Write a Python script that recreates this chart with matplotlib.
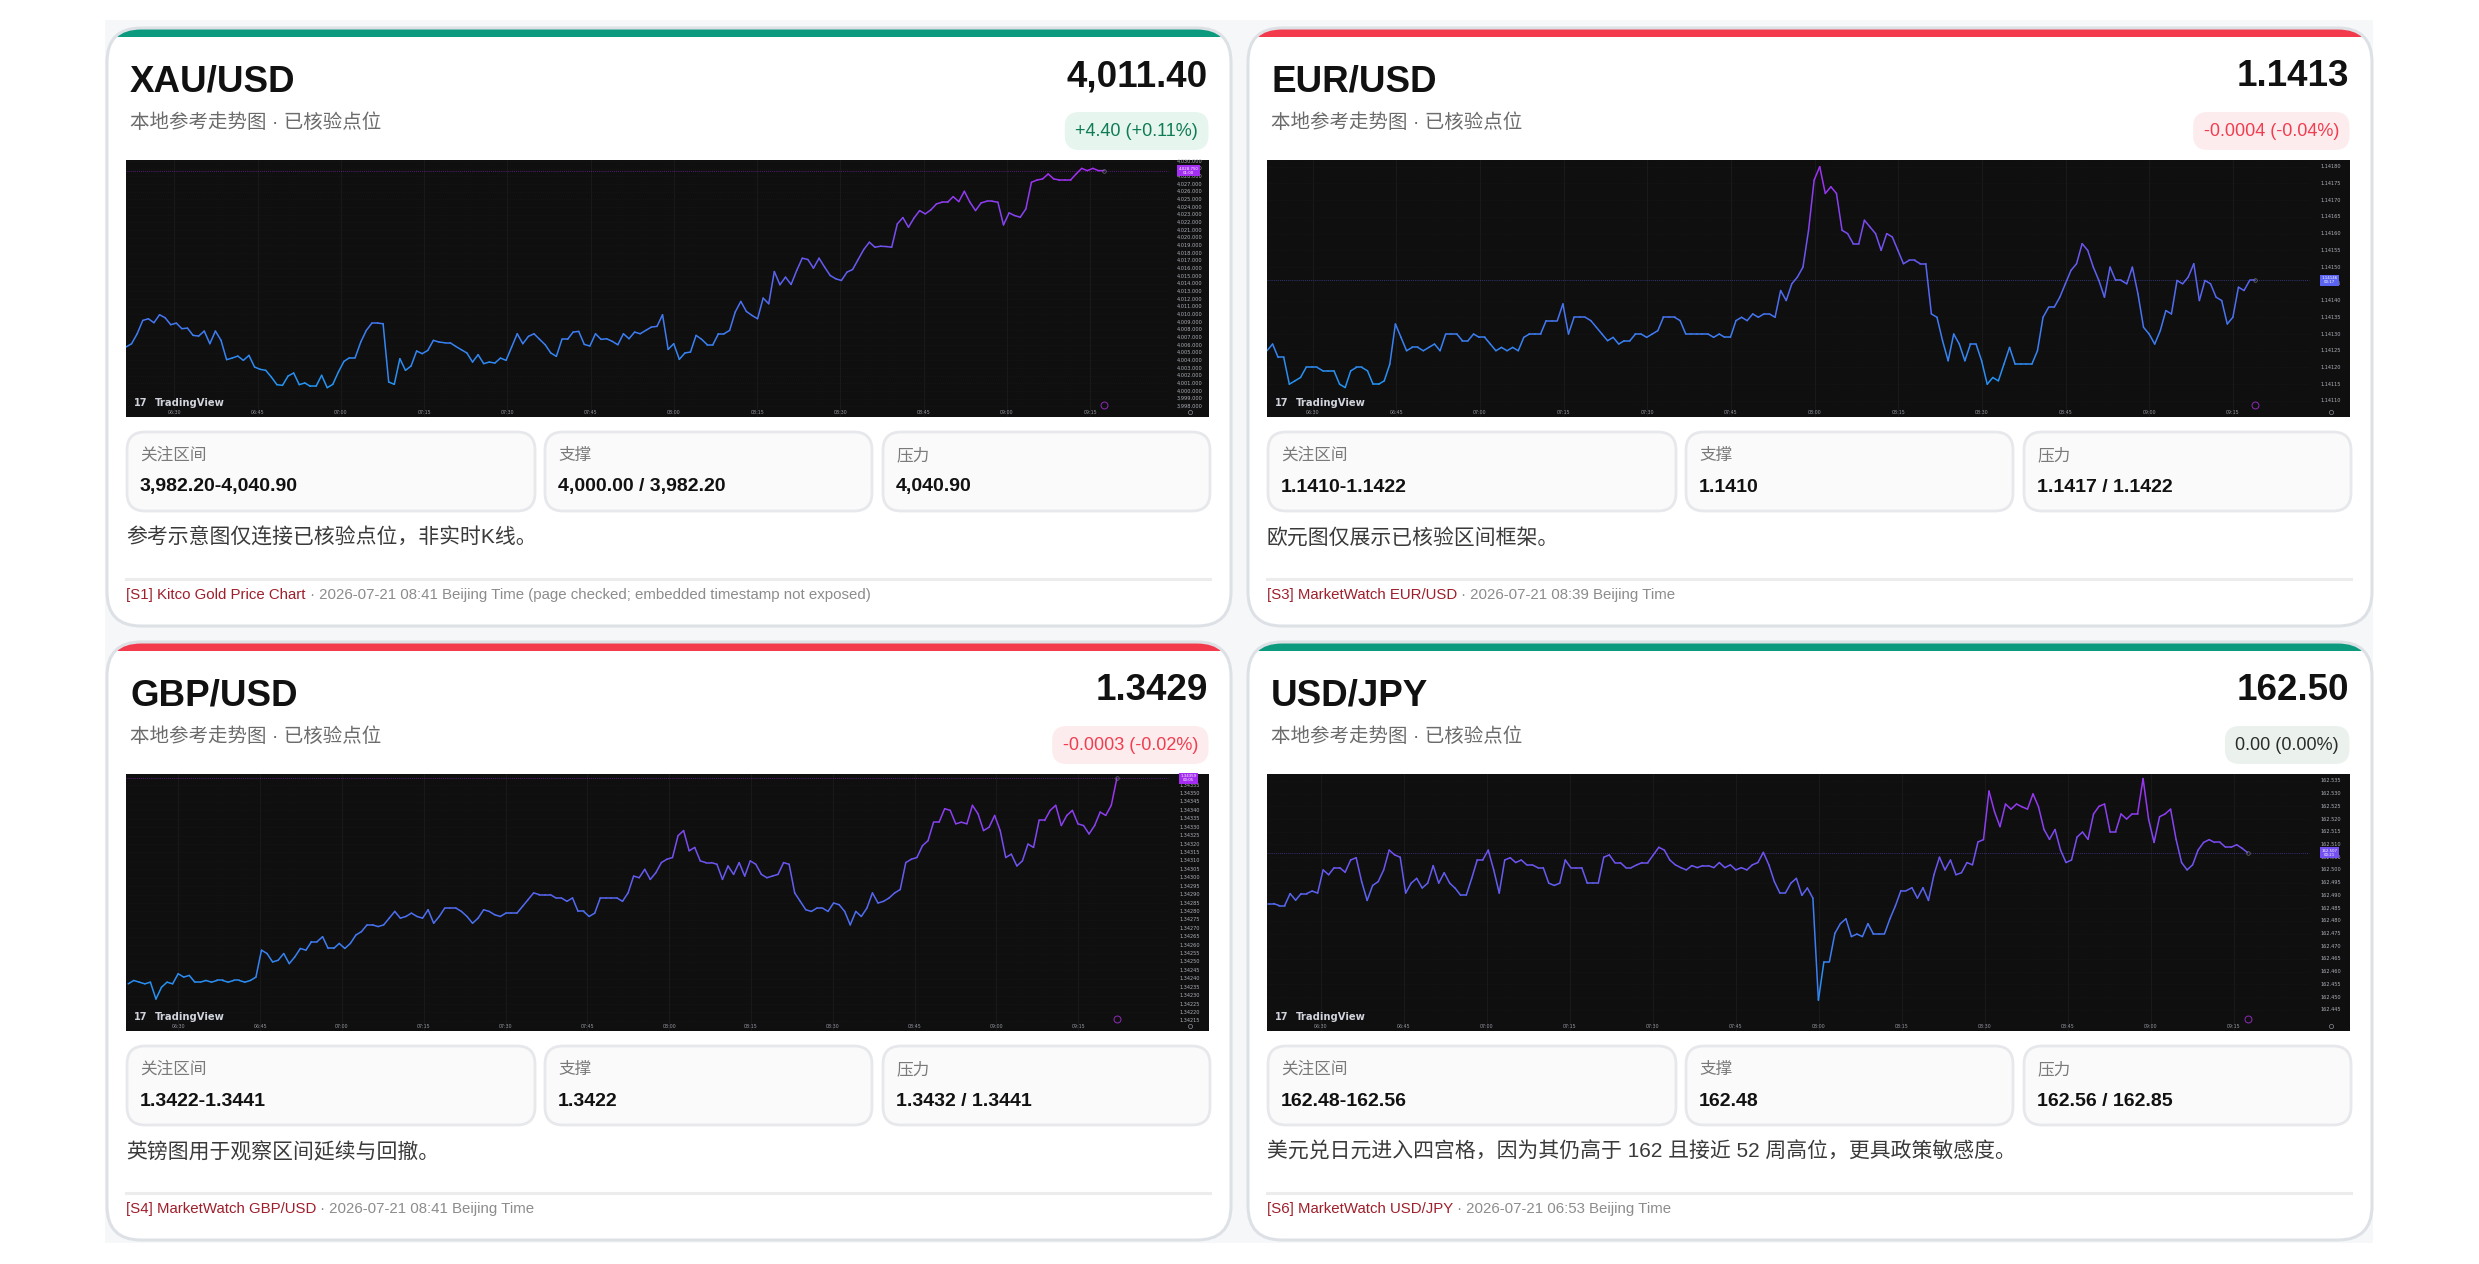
"""
Four-pair FX / gold dashboard cards with TradingView-style mini charts.
"""

import numpy as np
import matplotlib
matplotlib.use("Agg")
import matplotlib.pyplot as plt
from matplotlib.patches import FancyBboxPatch, Rectangle
from matplotlib.collections import LineCollection
from matplotlib.colors import LinearSegmentedColormap, Normalize
from matplotlib.transforms import blended_transform_factory

plt.rcParams["font.family"] = ["Liberation Sans", "Noto Sans CJK SC"]

W, H = 2479, 1264

# ---------------- card text ----------------
pairs = ["XAU/USD", "EUR/USD", "GBP/USD", "USD/JPY"]
last_prices = ["4,011.40", "1.1413", "1.3429", "162.50"]
changes = ["+4.40 (+0.11%)", "-0.0004 (-0.04%)", "-0.0003 (-0.02%)", "0.00 (0.00%)"]
moods = ["up", "down", "down", "flat"]
subtitle = "本地参考走势图 · 已核验点位"
box_labels = ["关注区间", "支撑", "压力"]
watch_ranges = ["3,982.20-4,040.90", "1.1410-1.1422", "1.3422-1.3441", "162.48-162.56"]
supports = ["4,000.00 / 3,982.20", "1.1410", "1.3422", "162.48"]
resistances = ["4,040.90", "1.1417 / 1.1422", "1.3432 / 1.3441", "162.56 / 162.85"]
notes = [
    "参考示意图仅连接已核验点位，非实时K线。",
    "欧元图仅展示已核验区间框架。",
    "英镑图用于观察区间延续与回撤。",
    "美元兑日元进入四宫格，因为其仍高于 162 且接近 52 周高位，更具政策敏感度。",
]
source_names = ["[S1] Kitco Gold Price Chart", "[S3] MarketWatch EUR/USD",
                "[S4] MarketWatch GBP/USD", "[S6] MarketWatch USD/JPY"]
source_times = [
    " · 2026-07-21 08:41 Beijing Time (page checked; embedded timestamp not exposed)",
    " · 2026-07-21 08:39 Beijing Time",
    " · 2026-07-21 08:41 Beijing Time",
    " · 2026-07-21 06:53 Beijing Time",
]

# ---------------- chart data ----------------
time_labels = ["06:30", "06:45", "07:00", "07:15", "07:30", "07:45",
               "08:00", "08:15", "08:30", "08:45", "09:00", "09:15"]
time_ticks = [0, 15, 30, 45, 60, 75, 90, 105, 120, 135, 150, 165]  # minutes after 06:30

xau_prices = [
    4005.73, 4006.16, 4007.46, 4009.20, 4009.42, 4008.90, 4009.94, 4009.55, 4008.64, 4008.85,
    4008.12, 4008.20, 4007.25, 4007.16, 4007.81, 4006.16, 4007.81, 4006.60, 4004.08, 4004.29,
    4004.55, 4003.99, 4004.64, 4003.12, 4002.82, 4002.69, 4001.82, 4000.82, 4000.73, 4001.95,
    4002.34, 4000.82, 4001.04, 4000.60, 4000.60, 4002.04, 4000.43, 4000.86, 4002.47, 4003.86,
    4004.34, 4004.34, 4006.38, 4007.90, 4008.85, 4008.85, 4008.77, 4001.17, 4000.86, 4004.21,
    4002.69, 4003.25, 4005.21, 4004.86, 4005.29, 4006.60, 4006.38, 4006.29, 4006.29, 4005.81,
    4005.38, 4004.95, 4003.77, 4004.73, 4003.56, 4003.77, 4003.64, 4004.29, 4003.99, 4005.73,
    4007.46, 4006.16, 4007.12, 4007.46, 4006.73, 4006.03, 4004.95, 4004.51, 4006.73, 4006.73,
    4007.68, 4007.77, 4006.07, 4005.86, 4007.46, 4006.73, 4006.81, 4006.47, 4006.03, 4007.46,
    4006.81, 4007.68, 4007.46, 4007.90, 4008.33, 4008.42, 4009.94, 4005.42, 4006.16, 4004.12,
    4004.95, 4005.08, 4007.25, 4006.73, 4006.03, 4006.03, 4007.46, 4007.46, 4007.90, 4010.29,
    4011.68, 4010.37, 4009.85, 4009.42, 4012.11, 4011.37, 4015.58, 4013.85, 4014.85, 4013.89,
    4015.71, 4017.32, 4017.15, 4016.02, 4017.32, 4016.15, 4015.06, 4014.63, 4014.41, 4015.50,
    4015.84, 4017.15, 4018.45, 4019.41, 4018.75, 4018.88, 4018.84, 4018.75, 4021.79, 4022.62,
    4021.36, 4022.57, 4023.53, 4023.10, 4023.62, 4024.40, 4024.62, 4024.62, 4025.35, 4024.70,
    4026.05, 4024.62, 4023.53, 4024.53, 4024.75, 4024.75, 4024.62, 4021.66, 4023.23, 4022.88,
    4022.66, 4023.75, 4027.22, 4027.52, 4027.66, 4028.31, 4027.66, 4027.52, 4027.52, 4027.52,
    4028.31, 4029.04, 4028.74, 4029.04, 4028.74, 4028.75,
]

eur_prices = [
    1.14125, 1.14127, 1.14123, 1.14123, 1.14115, 1.14116, 1.14117, 1.14120, 1.14120, 1.14120,
    1.14119, 1.14119, 1.14119, 1.14115, 1.14114, 1.14119, 1.14120, 1.14120, 1.14119, 1.14115,
    1.14115, 1.14116, 1.14121, 1.14133, 1.14129, 1.14125, 1.14126, 1.14126, 1.14125, 1.14126,
    1.14127, 1.14125, 1.14130, 1.14130, 1.14130, 1.14128, 1.14128, 1.14130, 1.14129, 1.14129,
    1.14127, 1.14125, 1.14126, 1.14125, 1.14126, 1.14125, 1.14129, 1.14130, 1.14130, 1.14130,
    1.14134, 1.14134, 1.14134, 1.14139, 1.14130, 1.14135, 1.14135, 1.14135, 1.14134, 1.14132,
    1.14130, 1.14128, 1.14129, 1.14127, 1.14128, 1.14128, 1.14130, 1.14130, 1.14129, 1.14130,
    1.14131, 1.14135, 1.14135, 1.14135, 1.14134, 1.14130, 1.14130, 1.14130, 1.14130, 1.14130,
    1.14129, 1.14130, 1.14129, 1.14129, 1.14134, 1.14135, 1.14134, 1.14136, 1.14135, 1.14136,
    1.14136, 1.14135, 1.14143, 1.14140, 1.14145, 1.14147, 1.14150, 1.14161, 1.14176, 1.14180,
    1.14172, 1.14174, 1.14172, 1.14161, 1.14160, 1.14157, 1.14157, 1.14164, 1.14162, 1.14160,
    1.14155, 1.14160, 1.14159, 1.14155, 1.14151, 1.14152, 1.14152, 1.14151, 1.14151, 1.14136,
    1.14135, 1.14128, 1.14122, 1.14130, 1.14127, 1.14122, 1.14127, 1.14127, 1.14122, 1.14115,
    1.14117, 1.14116, 1.14121, 1.14126, 1.14121, 1.14121, 1.14121, 1.14121, 1.14125, 1.14135,
    1.14138, 1.14138, 1.14141, 1.14145, 1.14149, 1.14151, 1.14157, 1.14155, 1.14150, 1.14146,
    1.14141, 1.14150, 1.14146, 1.14146, 1.14145, 1.14150, 1.14142, 1.14132, 1.14130, 1.14127,
    1.14131, 1.14137, 1.14136, 1.14146, 1.14145, 1.14147, 1.14151, 1.14140, 1.14146, 1.14145,
    1.14141, 1.14140, 1.14133, 1.14135, 1.14144, 1.14143, 1.14146, 1.14146,
]

gbp_prices = [
    1.34237, 1.34239, 1.34238, 1.34237, 1.34238, 1.34228, 1.34235, 1.34238, 1.34237, 1.34243,
    1.34241, 1.34242, 1.34238, 1.34238, 1.34239, 1.34238, 1.34239, 1.34239, 1.34238, 1.34239,
    1.34239, 1.34238, 1.34239, 1.34241, 1.34257, 1.34255, 1.34250, 1.34251, 1.34255, 1.34249,
    1.34253, 1.34258, 1.34257, 1.34262, 1.34262, 1.34265, 1.34258, 1.34258, 1.34261, 1.34258,
    1.34261, 1.34266, 1.34268, 1.34272, 1.34272, 1.34271, 1.34272, 1.34276, 1.34280, 1.34276,
    1.34277, 1.34279, 1.34277, 1.34276, 1.34281, 1.34273, 1.34277, 1.34282, 1.34282, 1.34282,
    1.34280, 1.34277, 1.34273, 1.34276, 1.34281, 1.34280, 1.34278, 1.34277, 1.34279, 1.34279,
    1.34279, 1.34283, 1.34287, 1.34291, 1.34290, 1.34290, 1.34290, 1.34288, 1.34288, 1.34286,
    1.34288, 1.34280, 1.34280, 1.34277, 1.34279, 1.34288, 1.34288, 1.34288, 1.34288, 1.34286,
    1.34291, 1.34301, 1.34300, 1.34305, 1.34299, 1.34303, 1.34309, 1.34311, 1.34312, 1.34325,
    1.34328, 1.34316, 1.34318, 1.34310, 1.34309, 1.34309, 1.34308, 1.34299, 1.34307, 1.34302,
    1.34309, 1.34301, 1.34310, 1.34308, 1.34302, 1.34300, 1.34301, 1.34302, 1.34309, 1.34308,
    1.34291, 1.34286, 1.34281, 1.34280, 1.34282, 1.34282, 1.34280, 1.34285, 1.34284, 1.34280,
    1.34272, 1.34280, 1.34277, 1.34282, 1.34291, 1.34285, 1.34286, 1.34288, 1.34291, 1.34293,
    1.34309, 1.34311, 1.34312, 1.34319, 1.34322, 1.34333, 1.34333, 1.34341, 1.34340, 1.34332,
    1.34333, 1.34332, 1.34343, 1.34338, 1.34328, 1.34330, 1.34337, 1.34328, 1.34312, 1.34314,
    1.34307, 1.34310, 1.34320, 1.34318, 1.34334, 1.34334, 1.34340, 1.34343, 1.34331, 1.34337,
    1.34340, 1.34332, 1.34331, 1.34326, 1.34331, 1.34339, 1.34337, 1.34343, 1.34359,
]

jpy_prices = [
    162.4868, 162.4868, 162.4860, 162.4860, 162.4907, 162.4881, 162.4907, 162.4907, 162.4917, 162.4909,
    162.5000, 162.4981, 162.5009, 162.5009, 162.4991, 162.5039, 162.5048, 162.4954, 162.4880, 162.4939,
    162.4954, 162.5000, 162.5078, 162.5059, 162.5050, 162.4909, 162.4948, 162.4967, 162.4929, 162.4948,
    162.5017, 162.4948, 162.4989, 162.4948, 162.4928, 162.4900, 162.4900, 162.4967, 162.5039, 162.5039,
    162.5078, 162.5000, 162.4909, 162.5039, 162.5048, 162.5029, 162.5039, 162.5020, 162.5020, 162.5009,
    162.5009, 162.4948, 162.4939, 162.4948, 162.5039, 162.5009, 162.5009, 162.5009, 162.4948, 162.4948,
    162.4948, 162.5050, 162.5059, 162.5029, 162.5029, 162.5009, 162.5009, 162.5020, 162.5029, 162.5029,
    162.5059, 162.5089, 162.5078, 162.5039, 162.5020, 162.5009, 162.5000, 162.5017, 162.5009, 162.5017,
    162.5017, 162.5009, 162.5029, 162.5009, 162.5020, 162.5000, 162.5009, 162.5000, 162.5020, 162.5029,
    162.5069, 162.5020, 162.4954, 162.4909, 162.4909, 162.4948, 162.4967, 162.4900, 162.4929, 162.4889,
    162.4488, 162.4639, 162.4639, 162.4751, 162.4789, 162.4808, 162.4738, 162.4748, 162.4738, 162.4789,
    162.4748, 162.4748, 162.4748, 162.4808, 162.4859, 162.4919, 162.4919, 162.4930, 162.4889, 162.4930,
    162.4880, 162.4981, 162.5050, 162.5000, 162.5039, 162.4981, 162.4989, 162.5029, 162.5020, 162.5110,
    162.5119, 162.5310, 162.5229, 162.5170, 162.5259, 162.5239, 162.5259, 162.5248, 162.5239, 162.5299,
    162.5248, 162.5159, 162.5120, 162.5159, 162.5078, 162.5029, 162.5039, 162.5129, 162.5149, 162.5120,
    162.5220, 162.5250, 162.5259, 162.5150, 162.5150, 162.5220, 162.5200, 162.5220, 162.5220, 162.5359,
    162.5200, 162.5108, 162.5209, 162.5220, 162.5239, 162.5120, 162.5029, 162.5000, 162.5020, 162.5078,
    162.5108, 162.5119, 162.5108, 162.5108, 162.5089, 162.5089, 162.5099, 162.5085, 162.5068,
]

# first / last sample time and visible window, minutes after 06:30
xau_span, xau_xlim, xau_ylim = (-8.7, 167.5), (-8.7, 186.4), (3996.6, 4030.13)
eur_span, eur_xlim, eur_ylim = (-8.2, 169.0), (-8.2, 186.0), (1.141052, 1.141820)
gbp_span, gbp_xlim, gbp_ylim = (-9.2, 172.1), (-9.6, 189.0), (1.342090, 1.343616)
jpy_span, jpy_xlim, jpy_ylim = (-9.5, 167.5), (-9.7, 186.0), (162.4367, 162.5377)

xau_scale = np.arange(3998, 4031, 1)
eur_scale = np.arange(114110, 114181, 5) / 1e5
gbp_scale = np.arange(134215, 134356, 5) / 1e5
jpy_scale = np.arange(162445, 162536, 5) / 1e3

countdowns = ["01:00", "00:17", "00:05", "00:21"]

# ---------------- style ----------------
TV_CMAP = LinearSegmentedColormap.from_list("tv", ["#2196f3", "#5c62f2", "#a52df2"])
_STRIPE = {"up": "#0c9a7e", "down": "#f23a4c", "flat": "#0c9a7e"}
_BADGE_BG = {"up": "#e6f5ee", "down": "#fdecee", "flat": "#ebf2ee"}
_BADGE_FG = {"up": "#0f7b57", "down": "#f03d4f", "flat": "#2b2b2b"}

CARD_W, CARD_H = 1124, 598
CARD_POS = [(107, 28), (1248, 28), (107, 642), (1248, 642)]
BOXES = [(20, 408), (438, 327), (776, 327)]

fig = plt.figure(figsize=(W / 100, H / 100), dpi=100)
fig.patch.set_facecolor("white")
bg = fig.add_axes([0, 0, 1, 1])
bg.set_xlim(0, W)
bg.set_ylim(H, 0)
bg.axis("off")
bg.add_patch(Rectangle((105, 20), 2268, 1223, fc="#f6f7f8", ec="none", zorder=0))


def _rounded(x, y, w, h, r, **kw):
    return FancyBboxPatch((x, y), w, h, boxstyle=f"round,pad=0,rounding_size={r}", **kw)


def draw_card(i):
    cx, cy = CARD_POS[i]
    mood = moods[i]
    card = _rounded(cx, cy, CARD_W, CARD_H, 34, fc="white", ec="none", zorder=1)
    bg.add_patch(card)
    stripe = Rectangle((cx, cy), CARD_W, 9, fc=_STRIPE[mood], ec="none", zorder=2)
    bg.add_patch(stripe)
    stripe.set_clip_path(card)
    bg.add_patch(_rounded(cx, cy, CARD_W, CARD_H, 34, fc="none", ec="#dde1e6", lw=2.2, zorder=3))

    bg.text(cx + 23, cy + 63, pairs[i], fontsize=26.5, weight="bold", color="#111111",
            va="baseline", zorder=4)
    bg.text(cx + 1101, cy + 58, last_prices[i], fontsize=26.5, weight="bold", color="#111111",
            ha="right", va="baseline", zorder=4)
    bg.text(cx + 23, cy + 95, subtitle, fontsize=14, color="#6b6b6b", va="center", zorder=4)
    bg.text(cx + 1091, cy + 103, changes[i], fontsize=13, color=_BADGE_FG[mood],
            ha="right", va="center", zorder=4,
            bbox=dict(boxstyle="round,pad=0.58,rounding_size=0.8", fc=_BADGE_BG[mood], ec="none"))

    values = [watch_ranges[i], supports[i], resistances[i]]
    for (bx, bw), lab, val in zip(BOXES, box_labels, values):
        bg.add_patch(_rounded(cx + bx, cy + 404, bw, 79, 18, fc="#fafafa", ec="#e7e8eb",
                              lw=2, zorder=4))
        bg.text(cx + bx + 13, cy + 427, lab, fontsize=12, color="#7a7a7a", va="center", zorder=5)
        bg.text(cx + bx + 13, cy + 459, val, fontsize=14, weight="bold", color="#111111",
                va="center", zorder=5)

    bg.text(cx + 19, cy + 510, notes[i], fontsize=15, color="#3a3a3a", va="center", zorder=4)
    bg.plot([cx + 19, cx + 1103], [cy + 551, cy + 551], color="#ececec", lw=2.2, zorder=4)

    src = bg.text(cx + 19, cy + 567, source_names[i], fontsize=10.8, color="#9f1f2b",
                  va="center", zorder=4)
    bb = src.get_window_extent(renderer=fig.canvas.get_renderer())
    x_end = bg.transData.inverted().transform((bb.x1, bb.y0))[0]
    bg.text(x_end, cy + 567, source_times[i], fontsize=10.8, color="#8c8c8c", va="center", zorder=4)


def draw_tv_chart(i, prices, span, xlim, ylim, scale, fmt):
    cx, cy = CARD_POS[i]
    x0, y0, w, h = cx + 19, cy + 132, 1083, 257
    ax = fig.add_axes([x0 / W, 1 - (y0 + h) / H, w / W, h / H])
    ax.set_facecolor("#0f0f0f")
    for s in ax.spines.values():
        s.set_visible(False)
    ax.set_xticks([])
    ax.set_yticks([])
    ax.set_xlim(*xlim)
    ax.set_ylim(*ylim)

    yx = blended_transform_factory(ax.transAxes, ax.transData)
    xy = blended_transform_factory(ax.transData, ax.transAxes)

    for tt in time_ticks:
        ax.axvline(tt, color="#1b1b1b", lw=0.6, zorder=0)
    for p in scale:
        ax.axhline(p, xmax=0.962, color="#1a1a1a", lw=0.5, ls=(0, (1, 2)), zorder=0)
        ax.text(0.982, p, fmt(p), transform=yx, fontsize=3.6, color="#aeb1ba",
                ha="center", va="center", family="DejaVu Sans")
    for tt, lab in zip(time_ticks, time_labels):
        ax.text(tt, 0.018, lab, transform=xy, fontsize=3.4, color="#9598a1",
                ha="center", va="center", family="DejaVu Sans")

    t = np.linspace(span[0], span[1], len(prices))
    p = np.asarray(prices)
    pts = np.column_stack([t, p])
    segs = np.stack([pts[:-1], pts[1:]], axis=1)
    norm = Normalize(p.min(), p.max())
    mids = (p[:-1] + p[1:]) / 2
    ax.add_collection(LineCollection(segs, colors=TV_CMAP(norm(mids)), linewidths=1.1,
                                     capstyle="round", joinstyle="round", zorder=3))

    end_color = TV_CMAP(norm(p[-1]))
    ax.axhline(p[-1], xmax=0.962, color=end_color, lw=0.6, ls=(0, (1, 1.5)), alpha=0.6, zorder=2)
    ax.plot(t[-1], p[-1], "o", ms=2.6, mfc="none", mec="#6f717a", mew=0.5, zorder=4)
    ax.text(0.981, p[-1], f"{fmt(p[-1])}\n{countdowns[i]}", transform=yx, fontsize=2.8,
            color="white", ha="center", va="center", linespacing=1.0, family="DejaVu Sans",
            zorder=5, bbox=dict(boxstyle="square,pad=0.35", fc=end_color, ec="none"))

    ax.plot(t[-1], 0.045, "o", ms=5, mfc="none", mec="#8e2bb8", mew=0.7, transform=xy)
    ax.plot(0.982, 0.018, "o", ms=3, mfc="none", mec="#8a8d95", mew=0.5, transform=ax.transAxes)
    ax.text(0.007, 0.055, "17", transform=ax.transAxes, fontsize=7, weight="bold",
            color="#d1d4dc", va="center", family="DejaVu Sans")
    ax.text(0.027, 0.055, "TradingView", transform=ax.transAxes, fontsize=7.2, weight="bold",
            color="#d1d4dc", va="center", family="DejaVu Sans")


for i in range(4):
    draw_card(i)

draw_tv_chart(0, xau_prices, xau_span, xau_xlim, xau_ylim, xau_scale, lambda v: f"{v:,.3f}")
draw_tv_chart(1, eur_prices, eur_span, eur_xlim, eur_ylim, eur_scale, lambda v: f"{v:.5f}")
draw_tv_chart(2, gbp_prices, gbp_span, gbp_xlim, gbp_ylim, gbp_scale, lambda v: f"{v:.5f}")
draw_tv_chart(3, jpy_prices, jpy_span, jpy_xlim, jpy_ylim, jpy_scale, lambda v: f"{v:.3f}")

fig.savefig("out.png", dpi=100)
plt.close(fig)
